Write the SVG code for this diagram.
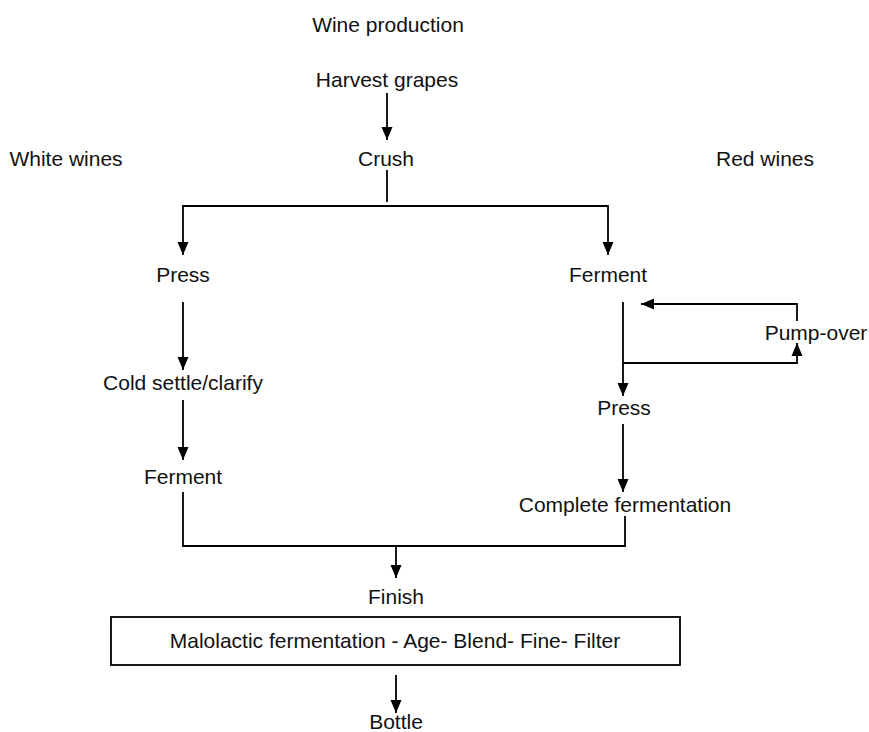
<svg xmlns="http://www.w3.org/2000/svg" width="869" height="732" viewBox="0 0 869 732">
  <defs>
    <marker id="arrow" markerUnits="userSpaceOnUse" markerWidth="14" markerHeight="12" refX="13" refY="6" orient="auto">
      <path d="M0,0.5 L13,6 L0,11.5 z" fill="#000"/>
    </marker>
    <style>
      text { font-family: "Liberation Sans", Arial, sans-serif; font-size: 21px; fill: #111; text-anchor: middle; }
      .link { fill: none; stroke: #000; stroke-width: 1.8; }
      .arrow { marker-end: url(#arrow); }
      .box { fill: #fff; stroke: #000; stroke-width: 1.8; }
    </style>
  </defs>
  <rect width="869" height="732" fill="#fff"/>

  <!-- headings -->
  <g id="title"><text x="388" y="32">Wine production</text></g>
  <g id="white-wines"><text x="66" y="166">White wines</text></g>
  <g id="red-wines"><text x="765" y="166">Red wines</text></g>

  <!-- process steps -->
  <g id="harvest"><text x="387" y="87">Harvest grapes</text></g>
  <g id="crush"><text x="386" y="166">Crush</text></g>
  <g id="white-press"><text x="183" y="282">Press</text></g>
  <g id="white-settle"><text x="183" y="390">Cold settle/clarify</text></g>
  <g id="white-ferment"><text x="183" y="484">Ferment</text></g>
  <g id="red-ferment"><text x="608" y="282">Ferment</text></g>
  <g id="pump-over"><text x="816" y="340">Pump-over</text></g>
  <g id="red-press"><text x="624" y="415">Press</text></g>
  <g id="complete-fermentation"><text x="625" y="512">Complete fermentation</text></g>
  <g id="finish"><text x="396" y="604">Finish</text></g>
  <g id="finish-steps">
    <rect class="box" x="111" y="617" width="569" height="48"/>
    <text x="395" y="648">Malolactic fermentation - Age- Blend- Fine- Filter</text>
  </g>
  <g id="bottle"><text x="396" y="729">Bottle</text></g>

  <!-- connectors -->
  <g id="connectors">
    <line class="link arrow" x1="387" y1="93" x2="387" y2="140"/>
    <polyline class="link" points="387,170 387,202"/>
    <polyline class="link arrow" points="387,206 183,206 183,255"/>
    <polyline class="link arrow" points="387,206 608,206 608,255"/>
    <line class="link arrow" x1="183" y1="302" x2="183" y2="370"/>
    <line class="link arrow" x1="183" y1="400" x2="183" y2="460"/>
    <line class="link arrow" x1="623" y1="302" x2="623" y2="396"/>
    <polyline class="link arrow" points="797,321 797,304 641,304"/>
    <polyline class="link arrow" points="623,363 797,363 797,343"/>
    <line class="link arrow" x1="623" y1="424" x2="623" y2="492"/>
    <polyline class="link" points="183,492 183,546 625,546 625,516"/>
    <line class="link arrow" x1="396" y1="546" x2="396" y2="578"/>
    <line class="link arrow" x1="396" y1="675" x2="396" y2="713"/>
  </g>
</svg>
